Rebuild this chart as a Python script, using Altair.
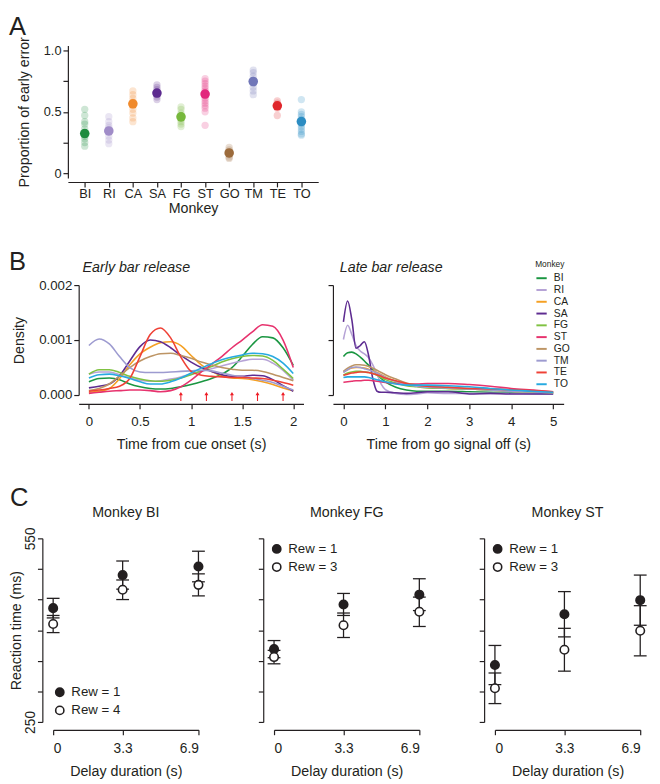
import altair as alt
import pandas as pd

FONT = "Liberation Sans"
INK = "#231f20"

monkeys = ["BI", "RI", "CA", "SA", "FG", "ST", "GO", "TM", "TE", "TO"]
colors_a = ["#1e8b3e", "#a08cc8", "#f08a2c", "#5c2a8f", "#77b83c",
            "#e2287d", "#9c6b3c", "#7076b8", "#e0262b", "#2b8cc2"]
colors_b = ["#1a9641", "#b6a3d6", "#f5a023", "#5e2c91", "#80c242",
            "#e7336e", "#bd9565", "#9d9bd0", "#ef4136", "#27aae1"]

# ---------------- Panel A: proportion of early error ----------------
prop_mean = [0.323, 0.344, 0.565, 0.653, 0.459, 0.645, 0.165, 0.747, 0.549, 0.421]
sess_BI = [0.52, 0.47, 0.42, 0.40, 0.36, 0.33, 0.30, 0.28, 0.25, 0.22]
sess_RI = [0.46, 0.42, 0.39, 0.37, 0.35, 0.33, 0.30, 0.27, 0.24]
sess_CA = [0.67, 0.64, 0.61, 0.58, 0.55, 0.52, 0.49, 0.45, 0.42]
sess_SA = [0.72, 0.70, 0.68, 0.66, 0.64, 0.62, 0.60]
sess_FG = [0.54, 0.52, 0.49, 0.47, 0.44, 0.42, 0.40, 0.38]
sess_ST = [0.77, 0.75, 0.73, 0.71, 0.69, 0.67, 0.65, 0.63, 0.61, 0.59, 0.57,
           0.55, 0.53, 0.50, 0.39]
sess_GO = [0.21, 0.19, 0.17, 0.15, 0.13, 0.12]
sess_TM = [0.84, 0.82, 0.79, 0.76, 0.73, 0.70, 0.67, 0.64]
sess_TE = [0.59, 0.57, 0.55, 0.53, 0.47]
sess_TO = [0.60, 0.50, 0.48, 0.46, 0.44, 0.42, 0.40, 0.38, 0.36, 0.34, 0.32, 0.31]
a_ticks = [0, 0.25, 0.5, 0.75, 1.0]

# ---------------- Panel B: density curves (units of 0.001) ----------------
early_t = [0.0, 0.1, 0.2, 0.3, 0.4, 0.5, 0.6, 0.7, 0.8, 0.9, 1.0,
           1.1, 1.2, 1.3, 1.4, 1.5, 1.6, 1.7, 1.8, 1.9, 2.0]
early_BI = [0.24, 0.30, 0.31, 0.28, 0.20, 0.15, 0.12, 0.11, 0.12, 0.15, 0.19,
            0.24, 0.30, 0.38, 0.50, 0.70, 0.92, 1.06, 1.04, 0.86, 0.54]
early_RI = [0.38, 0.42, 0.42, 0.37, 0.31, 0.27, 0.25, 0.26, 0.29, 0.33, 0.38,
            0.43, 0.48, 0.53, 0.58, 0.62, 0.65, 0.65, 0.58, 0.45, 0.27]
early_CA = [0.05, 0.07, 0.12, 0.30, 0.55, 0.75, 0.87, 0.95, 0.97, 0.90, 0.72,
            0.55, 0.43, 0.35, 0.31, 0.30, 0.28, 0.24, 0.19, 0.13, 0.08]
early_SA = [0.13, 0.16, 0.20, 0.35, 0.62, 0.88, 1.00, 0.97, 0.86, 0.72, 0.60,
            0.50, 0.43, 0.37, 0.34, 0.34, 0.36, 0.35, 0.28, 0.17, 0.07]
early_FG = [0.38, 0.46, 0.46, 0.41, 0.34, 0.29, 0.26, 0.25, 0.27, 0.31, 0.37,
            0.44, 0.52, 0.60, 0.66, 0.70, 0.72, 0.71, 0.63, 0.47, 0.30]
early_ST = [0.03, 0.05, 0.07, 0.08, 0.09, 0.09, 0.08, 0.06, 0.08, 0.15, 0.27,
            0.42, 0.56, 0.70, 0.86, 1.00, 1.15, 1.28, 1.25, 1.00, 0.50]
early_GO = [0.08, 0.12, 0.20, 0.35, 0.50, 0.62, 0.70, 0.75, 0.76, 0.72, 0.67,
            0.60, 0.55, 0.50, 0.47, 0.45, 0.45, 0.43, 0.38, 0.32, 0.26]
early_TM = [0.90, 1.02, 0.93, 0.70, 0.50, 0.42, 0.41, 0.41, 0.42, 0.43, 0.44,
            0.45, 0.44, 0.40, 0.36, 0.33, 0.30, 0.27, 0.23, 0.16, 0.09]
early_TE = [0.07, 0.09, 0.12, 0.16, 0.30, 0.70, 1.10, 1.22, 1.04, 0.69, 0.43,
            0.36, 0.34, 0.33, 0.32, 0.32, 0.31, 0.30, 0.27, 0.23, 0.18]
early_TO = [0.31, 0.37, 0.38, 0.35, 0.30, 0.24, 0.20, 0.20, 0.24, 0.31, 0.40,
            0.49, 0.57, 0.64, 0.69, 0.73, 0.76, 0.75, 0.70, 0.58, 0.39]
cue_marks = [0.9, 1.15, 1.4, 1.65, 1.9]

late_t = [0.0, 0.1, 0.2, 0.3, 0.4, 0.5, 0.6, 0.7, 0.8, 0.9, 1.0,
          1.25, 1.5, 1.75, 2.0, 2.5, 3.0, 3.5, 4.0, 4.5, 5.0]
late_BI = [0.70, 0.77, 0.78, 0.75, 0.69, 0.62, 0.54, 0.46, 0.38, 0.30, 0.24,
           0.14, 0.09, 0.07, 0.07, 0.07, 0.06, 0.05, 0.04, 0.03, 0.03]
late_RI = [1.01, 1.27, 1.10, 0.90, 0.80, 0.75, 0.68, 0.55, 0.38, 0.20, 0.10,
           0.03, 0.01, 0.02, 0.04, 0.03, 0.03, 0.03, 0.03, 0.03, 0.02]
late_CA = [0.42, 0.46, 0.49, 0.50, 0.50, 0.49, 0.47, 0.44, 0.41, 0.37, 0.33,
           0.25, 0.19, 0.16, 0.14, 0.12, 0.11, 0.09, 0.07, 0.06, 0.04]
late_SA = [1.33, 1.71, 1.37, 0.85, 0.90, 0.97, 0.72, 0.30, 0.07, 0.05, 0.05,
           0.04, 0.03, 0.04, 0.06, 0.06, 0.02, 0.03, 0.02, 0.02, 0.02]
late_FG = [0.36, 0.40, 0.42, 0.43, 0.43, 0.42, 0.41, 0.39, 0.36, 0.32, 0.28,
           0.22, 0.17, 0.15, 0.13, 0.12, 0.11, 0.09, 0.07, 0.06, 0.04]
late_ST = [0.23, 0.24, 0.25, 0.26, 0.26, 0.27, 0.27, 0.26, 0.25, 0.24, 0.23,
           0.21, 0.20, 0.20, 0.21, 0.21, 0.19, 0.16, 0.12, 0.09, 0.06]
late_GO = [0.43, 0.49, 0.53, 0.55, 0.55, 0.54, 0.52, 0.49, 0.45, 0.41, 0.37,
           0.29, 0.22, 0.18, 0.16, 0.14, 0.12, 0.10, 0.08, 0.07, 0.05]
late_TM = [0.41, 0.46, 0.50, 0.51, 0.50, 0.48, 0.46, 0.43, 0.40, 0.36, 0.32,
           0.25, 0.19, 0.16, 0.14, 0.13, 0.11, 0.09, 0.07, 0.06, 0.04]
late_TE = [0.36, 0.38, 0.40, 0.41, 0.42, 0.42, 0.41, 0.39, 0.37, 0.34, 0.31,
           0.26, 0.21, 0.18, 0.16, 0.14, 0.12, 0.11, 0.10, 0.08, 0.06]
late_TO = [0.32, 0.33, 0.33, 0.33, 0.33, 0.33, 0.32, 0.30, 0.28, 0.26, 0.24,
           0.20, 0.18, 0.18, 0.18, 0.17, 0.15, 0.12, 0.09, 0.07, 0.05]

# ---------------- Panel C: reaction times ----------------
delays = [0, 3.3, 6.9]
rt_ticks = [250, 300, 350, 400, 450, 500, 550]
bi_rew1 = [436, 490, 504]
bi_rew1_sem = [16, 23, 25]
bi_rew4 = [410, 466, 474]
bi_rew4_sem = [14, 16, 18]
fg_rew1 = [369, 442, 458]
fg_rew1_sem = [14, 18, 26]
fg_rew3 = [356, 408, 430]
fg_rew3_sem = [11, 20, 24]
st_rew1 = [343, 426, 449]
st_rew1_sem = [32, 37, 41]
st_rew3 = [305, 368, 399]
st_rew3_sem = [25, 35, 41]


def label(txt, dx, dy, size=26, align="left", baseline="top", style="normal", visible=True):
    return alt.Chart(alt.Data(values=[{"t": txt}])).mark_text(
        align=align, baseline=baseline, fontSize=size, font=FONT, color=INK,
        fontStyle=style, opacity=1 if visible else 0,
    ).encode(text="t:N", x=alt.value(dx), y=alt.value(dy))


def spacer():
    return alt.Chart(alt.Data(values=[{"t": ""}])).mark_text(opacity=0).encode(
        text="t:N").properties(width=1, height=1)


# ----- Panel A -----
sess_lists = [sess_BI, sess_RI, sess_CA, sess_SA, sess_FG,
              sess_ST, sess_GO, sess_TM, sess_TE, sess_TO]
a_sess = pd.DataFrame([(m, v) for m, vals in zip(monkeys, sess_lists) for v in vals],
                      columns=["monkey", "prop"])
a_mean = pd.DataFrame({"monkey": monkeys, "prop": prop_mean})

xa = alt.X("monkey:N", sort=monkeys,
           scale=alt.Scale(type="point", domain=monkeys, padding=0.7),
           axis=alt.Axis(title="Monkey", labelAngle=0, offset=4, titlePadding=1,
                         labelPadding=1, labelFontSize=13))
ya = alt.Y("prop:Q", scale=alt.Scale(domain=[-0.04, 1.04], nice=False, zero=False),
           axis=alt.Axis(values=a_ticks, title="Proportion of early error",
                         titlePadding=12, labelFontSize=13,
                         labelExpr="datum.value == 0 ? '0' : (datum.value == 0.5 ? '0.5' : (datum.value == 1 ? '1.0' : ''))"))
ca = alt.Color("monkey:N", scale=alt.Scale(domain=monkeys, range=colors_a), legend=None)

a_pts = alt.Chart(a_sess).mark_circle(size=55, opacity=0.22).encode(x=xa, y=ya, color=ca)
a_mn = alt.Chart(a_mean).mark_circle(size=95, opacity=1).encode(x=xa, y=ya, color=ca)
panel_a = alt.layer(a_pts, a_mn, label("A", -60, -32)).properties(width=255, height=135)

# ----- Panel B -----
early_lists = [early_BI, early_RI, early_CA, early_SA, early_FG,
               early_ST, early_GO, early_TM, early_TE, early_TO]
late_lists = [late_BI, late_RI, late_CA, late_SA, late_FG,
              late_ST, late_GO, late_TM, late_TE, late_TO]
b_early = pd.DataFrame([(m, t, d) for m, ys in zip(monkeys, early_lists)
                        for t, d in zip(early_t, ys)], columns=["monkey", "t", "dens"])
b_late = pd.DataFrame([(m, t, d) for m, ys in zip(monkeys, late_lists)
                       for t, d in zip(late_t, ys)], columns=["monkey", "t", "dens"])
b_marks = pd.DataFrame({"t": cue_marks})

yb_scale = alt.Scale(domain=[0, 2], nice=False, zero=False)

early_line = alt.Chart(b_early).mark_line(interpolate="monotone", strokeWidth=1.6).encode(
    x=alt.X("t:Q", scale=alt.Scale(domain=[-0.1, 2.1], nice=False, zero=False),
            axis=alt.Axis(values=[0, 0.5, 1, 1.5, 2], format="~g", offset=9,
                          title="Time from cue onset (s)", titlePadding=10, labelPadding=6,
                          labelFontSize=13.5)),
    y=alt.Y("dens:Q", scale=yb_scale,
            axis=alt.Axis(values=[0, 1, 2], title="Density", titlePadding=12, labelFontSize=13.5,
                          labelExpr="format(datum.value / 1000, '.3f')")),
    color=alt.Color("monkey:N", scale=alt.Scale(domain=monkeys, range=colors_b), legend=None),
    detail="monkey:N",
)
arrow_path = "M0,-1L0.45,-0.3L0.12,-0.3L0.12,1L-0.12,1L-0.12,-0.3L-0.45,-0.3Z"
early_arrows = alt.Chart(b_marks).mark_point(
    shape=arrow_path, filled=True, size=81, color="#ee1c25", opacity=1
).encode(x="t:Q", y=alt.value(113.5))
panel_b1 = alt.layer(
    early_line, early_arrows, label("B", -71, -36),
    label("Early bar release", 4, -13, size=14.5, baseline="alphabetic", style="italic"),
).properties(width=229, height=112)

late_line = alt.Chart(b_late).mark_line(interpolate="monotone", strokeWidth=1.6).encode(
    x=alt.X("t:Q", scale=alt.Scale(domain=[-0.25, 5.25], nice=False, zero=False),
            axis=alt.Axis(values=[0, 1, 2, 3, 4, 5], format="d", offset=9,
                          title="Time from go signal off (s)", titlePadding=10, labelPadding=6,
                          labelFontSize=13.5)),
    y=alt.Y("dens:Q", scale=yb_scale, axis=alt.Axis(values=[0, 1, 2], labels=False, title=None)),
    color=alt.Color("monkey:N", scale=alt.Scale(domain=monkeys, range=colors_b),
                    legend=alt.Legend(
                        title="\u00a0\u00a0\u00a0\u00a0\u00a0\u00a0\u00a0\u00a0Monkey",
                        orient="none", legendX=206, legendY=-25,
                        symbolType="stroke", symbolStrokeWidth=2, symbolSize=110,
                        labelFontSize=10.5, titleFontSize=8.5, titleFontWeight="normal",
                        rowPadding=0, labelOffset=6, padding=0, titlePadding=3,
                        labelColor=INK, titleColor=INK)),
    detail="monkey:N",
)
panel_b2 = alt.layer(
    late_line,
    label("Late bar release", 7, -13, size=14.5, baseline="alphabetic", style="italic"),
).properties(width=235, height=112)

inner_b = alt.hconcat(panel_b1, panel_b2, spacing=24).resolve_scale(color="independent")


# ----- Panel C -----
def c_panel(name, m1, s1, m2, s2, lab2, leg_x, leg_y, first):
    df = pd.DataFrame({
        "delay": delays + delays,
        "rt": m1 + m2,
        "sem": s1 + s2,
        "rew": ["Rew = 1"] * len(m1) + [lab2] * len(m2),
    })
    df["lo"] = df["rt"] - df["sem"]
    df["hi"] = df["rt"] + df["sem"]
    xenc = alt.X("delay:Q", scale=alt.Scale(domain=[0, 6.9], nice=False, zero=False),
                 axis=alt.Axis(values=delays, labelExpr="'' + datum.value", offset=8,
                               labelFontSize=14, labelPadding=7,
                               title="Delay duration (s)", titlePadding=10))
    yaxis = alt.Axis(values=rt_ticks, offset=11, labels=first, labelAngle=270,
                     labelAlign="center", labelBaseline="bottom", labelFontSize=14,
                     labelPadding=0, titlePadding=0,
                     labelExpr="datum.value == 250 || datum.value == 550 ? datum.label : ''",
                     title="Reaction time (ms)" if first else None)

    def yenc(f):
        return alt.Y(f + ":Q", scale=alt.Scale(domain=[250, 550], nice=False, zero=False),
                     axis=yaxis)

    base = alt.Chart(df)
    bars = base.mark_rule(color=INK, strokeWidth=1.3).encode(x=xenc, y=yenc("lo"), y2="hi:Q")
    cap_lo = base.mark_point(shape="stroke", size=170, color=INK, strokeWidth=1.3,
                             opacity=1).encode(x=xenc, y=yenc("lo"))
    cap_hi = base.mark_point(shape="stroke", size=170, color=INK, strokeWidth=1.3,
                             opacity=1).encode(x=xenc, y=yenc("hi"))
    pts = base.mark_point(filled=True, size=75, stroke=INK, strokeWidth=1.6, opacity=1).encode(
        x=xenc, y=yenc("rt"),
        fill=alt.Fill("rew:N", scale=alt.Scale(domain=["Rew = 1", lab2], range=[INK, "white"]),
                      legend=alt.Legend(title=None, orient="none", legendX=leg_x, legendY=leg_y,
                                        symbolType="circle", symbolSize=70,
                                        symbolStrokeColor=INK, symbolStrokeWidth=1.6,
                                        labelFontSize=13.5, rowPadding=2.5, labelOffset=5,
                                        padding=0, labelColor=INK)),
    )
    layers = [bars, cap_lo, cap_hi, pts,
              label(name, 74, -22, size=14.5, align="center", baseline="alphabetic")]
    if first:
        layers.append(label("C", -44, -54))
    return alt.layer(*layers).properties(width=148, height=187)


c1 = c_panel("Monkey BI", bi_rew1, bi_rew1_sem, bi_rew4, bi_rew4_sem, "Rew = 4", 0, 150, True)
c2 = c_panel("Monkey FG", fg_rew1, fg_rew1_sem, fg_rew3, fg_rew3_sem, "Rew = 3", -4, 4, False)
c3 = c_panel("Monkey ST", st_rew1, st_rew1_sem, st_rew3, st_rew3_sem, "Rew = 3", -4, 4, False)
inner_c = alt.hconcat(c1, c2, c3, spacing=50).resolve_scale(
    fill="independent", x="independent", y="independent")

row_a = alt.hconcat(spacer(), panel_a, spacing=0)
row_b = alt.hconcat(spacer(), inner_b, spacing=0).resolve_scale(color="independent")
row_c = alt.hconcat(spacer(), inner_c, spacing=0).resolve_scale(
    fill="independent", x="independent", y="independent")

chart = alt.concat(row_a, row_b, row_c, columns=1, spacing=35, align="none").resolve_scale(
    color="independent", fill="independent", x="independent", y="independent"
).properties(
    padding={"left": 0, "top": -1, "right": 2, "bottom": 0}
).configure(font=FONT).configure_view(stroke=None).configure_axis(
    grid=False, labelFont=FONT, titleFont=FONT, titleFontSize=14.5, titleFontWeight="normal",
    labelColor=INK, titleColor=INK, domainColor=INK, tickColor=INK, tickSize=5,
    domainWidth=1.2, tickWidth=1.2,
).configure_legend(labelFont=FONT, titleFont=FONT)

chart.save("out.html", embed_options={"renderer": "svg", "actions": False})
